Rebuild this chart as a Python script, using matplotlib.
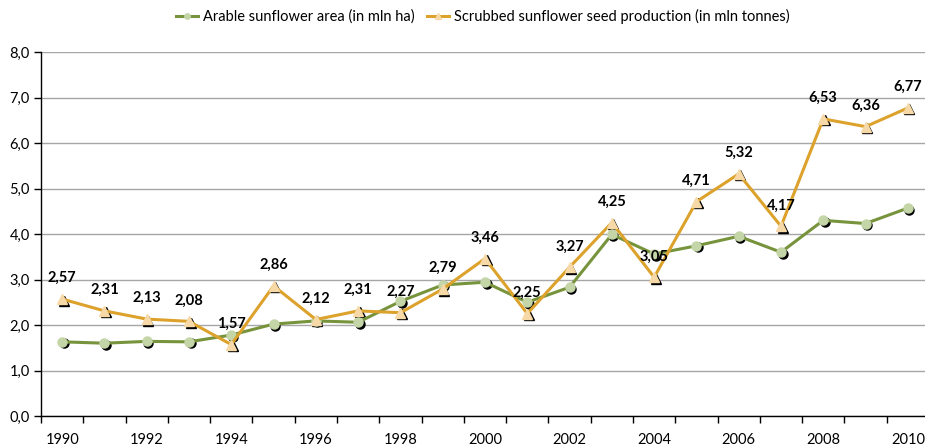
import matplotlib
matplotlib.use("Agg")
import matplotlib.pyplot as plt
import matplotlib.transforms as mtransforms
import numpy as np

plt.rcParams['font.family'] = ['Lato', 'DejaVu Sans']

years = list(range(1990, 2011))
area = [1.63, 1.60, 1.64, 1.63, 1.78, 2.02, 2.09, 2.06, 2.52, 2.88, 2.94,
        2.50, 2.83, 3.99, 3.56, 3.74, 3.95, 3.60, 4.30, 4.23, 4.57]
production = [2.57, 2.31, 2.13, 2.08, 1.57, 2.86, 2.12, 2.31, 2.27, 2.79, 3.46,
              2.25, 3.27, 4.25, 3.05, 4.71, 5.32, 4.17, 6.53, 6.36, 6.77]

green = '#77933c'
green_fill = '#c4d6a8'
gold = '#dca22c'
gold_fill = '#f6d9a6'

fig = plt.figure(figsize=(9.25, 4.46), dpi=100)
ax = fig.add_axes([41 / 925, 30 / 446, 888 / 925, 364 / 446])

x = np.arange(len(years))
shadow = mtransforms.offset_copy(ax.transData, fig=fig, x=1.5, y=-1.5, units='dots')

# shadows under the markers
ax.plot(x, area, linestyle='none', marker='o', markersize=6.5,
        color='black', transform=shadow, zorder=3)
ax.plot(x, production, linestyle='none', marker='^', markersize=7.5,
        color='black', transform=shadow, zorder=3)

ax.plot(x, area, color=green, linewidth=2.2, marker='o', markersize=6.5,
        markerfacecolor=green_fill, markeredgecolor=green_fill, zorder=4,
        label='Arable sunflower area (in mln ha)')
ax.plot(x, production, color=gold, linewidth=2.2, marker='^', markersize=7.5,
        markerfacecolor=gold_fill, markeredgecolor=gold_fill, zorder=4,
        label='Scrubbed sunflower seed production (in mln tonnes)')

for xi, v in zip(x, production):
    ax.annotate(f'{v:.2f}'.replace('.', ','), (xi, v), xytext=(0, 15),
                textcoords='offset points', ha='center', va='center',
                fontsize=10.5, fontweight='bold', color='black', zorder=5)

ax.set_xlim(-0.5, 20.5)
ax.set_ylim(0, 8)
ax.set_yticks(np.arange(0, 8.1, 1))
ax.set_yticklabels([f'{v:.1f}'.replace('.', ',') for v in np.arange(0, 8.1, 1)],
                   fontsize=10.5)
ax.set_xticks(x[::2])
ax.set_xticklabels([str(y) for y in years[::2]], fontsize=10.5)
ax.set_xticks(np.arange(-0.5, 21, 1), minor=True)
ax.tick_params(axis='x', which='major', length=0, pad=12)
ax.tick_params(axis='x', which='minor', length=5, width=1, color='black')
ax.tick_params(axis='y', length=5, width=1, color='black', pad=3)

ax.grid(axis='y', color='#a6a6a6', linewidth=1)
ax.set_axisbelow(True)
for s in ['top', 'right']:
    ax.spines[s].set_visible(False)
for s in ['left', 'bottom']:
    ax.spines[s].set_color('black')
    ax.spines[s].set_linewidth(1)

fig.legend(loc='upper center', bbox_to_anchor=(0.522, 1.01), ncol=2,
           frameon=False, fontsize=10.5, handlelength=1.5, columnspacing=0.8,
           handletextpad=0.4, markerscale=0.6)

fig.savefig('out.png', dpi=100)
